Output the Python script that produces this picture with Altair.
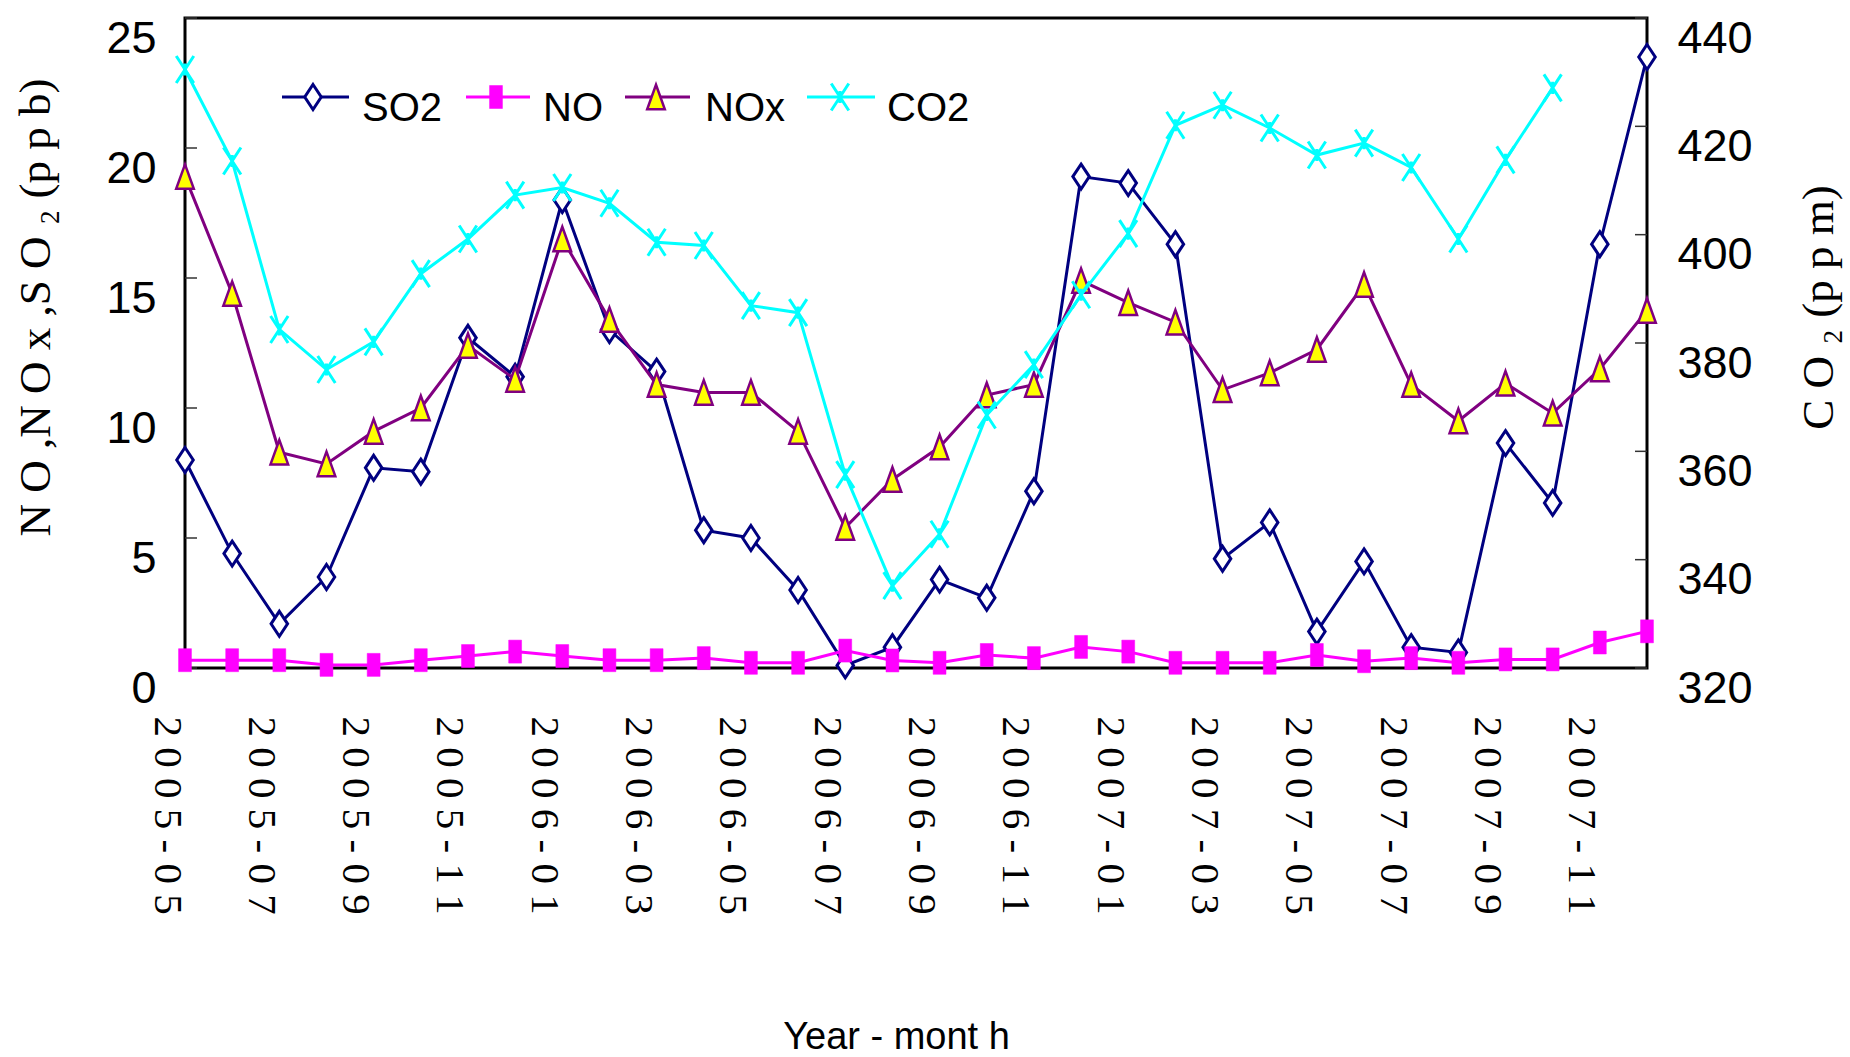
import altair as alt
import pandas as pd

months = ["2005-05", "2005-06", "2005-07", "2005-08", "2005-09", "2005-10", "2005-11", "2005-12",
          "2006-01", "2006-02", "2006-03", "2006-04", "2006-05", "2006-06", "2006-07", "2006-08",
          "2006-09", "2006-10", "2006-11", "2006-12", "2007-01", "2007-02", "2007-03", "2007-04",
          "2007-05", "2007-06", "2007-07", "2007-08", "2007-09", "2007-10", "2007-11", "2007-12"]

so2 = [8.0, 4.4, 1.7, 3.5, 7.7, 7.55, 12.7, 11.2, 18.0, 13.0, 11.4, 5.3, 5.0, 3.0, 0.1, 0.8,
       3.4, 2.7, 6.8, 18.9, 18.65, 16.3, 4.2, 5.6, 1.4, 4.1, 0.8, 0.6, 8.65, 6.35, 16.3, 23.5]
no = [0.3, 0.3, 0.3, 0.12, 0.12, 0.3, 0.46, 0.63, 0.46, 0.3, 0.3, 0.38, 0.2, 0.2, 0.67, 0.29,
      0.2, 0.5, 0.38, 0.81, 0.63, 0.2, 0.2, 0.2, 0.5, 0.26, 0.38, 0.2, 0.33, 0.33, 0.98, 1.41]
nox = [18.9, 14.4, 8.3, 7.85, 9.1, 10.0, 12.4, 11.1, 16.5, 13.4, 10.9, 10.6, 10.6, 9.1, 5.4, 7.25,
       8.5, 10.5, 10.9, 14.9, 14.05, 13.3, 10.7, 11.35, 12.25, 14.75, 10.9, 9.5, 10.95, 9.8, 11.5, 13.75]
co2 = [430.5, 413.6, 382.5, 375.1, 380.2, 392.8, 399.2, 407.3, 408.7, 405.8, 398.6, 398.0, 386.9, 385.6,
       355.7, 335.2, 344.7, 366.7, 376.0, 388.9, 400.2, 420.2, 423.9, 419.7, 414.7, 416.9, 412.4, 399.2,
       413.8, 427.1, None, None]

left_ticks = [0, 5, 10, 15, 20, 25]
right_ticks = [320, 340, 360, 380, 400, 420, 440]

spaced = [" ".join(m) for m in months]
label_values = spaced[::2]

df = pd.DataFrame({"m": spaced, "so2": so2, "no": no, "nox": nox, "co2": co2})

W, H = 1462, 650
SANS = "Liberation Sans, Arial, sans-serif"
SERIF = "Liberation Serif, Times New Roman, serif"

NAVY = "#000080"
MAG = "#FF00FF"
PURP = "#800080"
YEL = "#FFFF00"
CYAN = "#00FFFF"

DIAMOND = "M0,-1L0.66,0L0,1L-0.66,0Z"
SQUARE = "M-0.56,-1L0.56,-1L0.56,1L-0.56,1Z"
TRI = "M0,-1L0.72,1L-0.72,1Z"
STAR = "M-0.65,-1L0.65,1M-0.65,1L0.65,-1M0,-0.45L0,0.45"

LW = 3

xenc = alt.X("m:O", sort=spaced,
             scale=alt.Scale(type="point", padding=0, domain=spaced),
             axis=alt.Axis(values=label_values, labelAngle=90, labelAlign="left", labelBaseline="middle",
                           labelFont=SERIF, labelFontSize=41, labelColor="black", labelPadding=48,
                           labelOffset=-19, labelLimit=600, ticks=False, domain=False, grid=False,
                           labelOverlap=False,
                           title="Year - mont h", titleFont=SANS, titleFontSize=38, titleFontWeight="normal",
                           titleColor="black", titleX=711, titleY=380, titleBaseline="alphabetic",
                           titleAnchor="start", titleAlign="center"))

lscale = alt.Scale(domain=[0, 25], nice=False, zero=False)
rscale = alt.Scale(domain=[320, 440], nice=False, zero=False)

yleft_axis = alt.Axis(values=left_ticks, orient="left", ticks=False, domain=False, grid=False,
                      labelFont=SANS, labelFontSize=45, labelColor="black", labelPadding=29,
                      labelBaseline="middle", labelOffset=20, labelLimit=300,
                      title="N O ,N O x ,S O ₂ (p p b)", titleFont=SERIF, titleFontSize=45,
                      titleFontWeight="normal", titleColor="black", titleAngle=270,
                      titleX=-150, titleY=289, titleBaseline="middle", titleAlign="center",
                      titleLimit=900)
yright_axis = alt.Axis(values=right_ticks, orient="right", ticks=False, domain=False, grid=False,
                       labelFont=SANS, labelFontSize=45, labelColor="black", labelPadding=30,
                       labelBaseline="middle", labelOffset=20, labelLimit=300,
                       title="C O ₂ (p p m)", titleFont=SERIF, titleFontSize=45,
                       titleFontWeight="normal", titleColor="black", titleAngle=270,
                       titleX=171, titleY=289, titleBaseline="middle", titleAlign="center",
                       titleLimit=900)

base = alt.Chart(df)

def line(field, color, scale, axis):
    return base.mark_line(color=color, strokeWidth=LW).encode(
        x=xenc, y=alt.Y(f"{field}:Q", scale=scale, axis=axis))

def pts(field, scale, axis, shape, size, fill, stroke, sw, filled=True):
    kw = dict(shape=shape, size=size, stroke=stroke, strokeWidth=sw, opacity=1, filled=filled)
    if fill is not None:
        kw["fill"] = fill
    return base.mark_point(**kw).encode(
        x=xenc, y=alt.Y(f"{field}:Q", scale=scale, axis=axis))

lt = pd.DataFrame({"v": left_ticks})
rt = pd.DataFrame({"v": right_ticks})
lticks = alt.Chart(lt).mark_rule(color="#333333", strokeWidth=1.5).encode(
    y=alt.Y("v:Q", scale=lscale, axis=yleft_axis), x=alt.value(0), x2=alt.value(12))
rticks = alt.Chart(rt).mark_rule(color="#333333", strokeWidth=1.5).encode(
    y=alt.Y("v:Q", scale=rscale, axis=yright_axis), x=alt.value(W - 12), x2=alt.value(W))

LA, RA = yleft_axis, yright_axis
left = alt.layer(
    line("so2", NAVY, lscale, LA),
    lticks,
    pts("so2", lscale, LA, DIAMOND, 625, "white", NAVY, 3),
    line("nox", PURP, lscale, LA),
    pts("nox", lscale, LA, TRI, 600, YEL, PURP, 2.5),
    line("no", MAG, lscale, LA),
    pts("no", lscale, LA, SQUARE, 529, MAG, MAG, 0.5),
)
right = alt.layer(
    line("co2", CYAN, rscale, RA),
    rticks,
    pts("co2", rscale, RA, STAR, 729, None, CYAN, 3, filled=False),
)

# legend
one = pd.DataFrame({"k": [0]})
series_names = ["SO2", "NO", "NOx", "CO2"]
leg_specs = [
    (series_names[0], NAVY, DIAMOND, 625, "white", NAVY, 3, True, 97, 164, 128, 177),
    (series_names[1], MAG, SQUARE, 529, MAG, MAG, 0.5, True, 281, 345, 311, 358),
    (series_names[2], PURP, TRI, 600, YEL, PURP, 2.5, True, 440, 505, 471, 520),
    (series_names[3], CYAN, STAR, 729, None, CYAN, 3, False, 622, 690, 655, 702),
]
legend_layers = []
LY = 79
for name, col, shp, sz, fill, stroke, sw, filled, x1, x2, xm, xt in leg_specs:
    legend_layers.append(alt.Chart(one).mark_rule(color=col, strokeWidth=LW).encode(
        x=alt.value(x1), x2=alt.value(x2), y=alt.value(LY)))
    kw = dict(shape=shp, size=sz, stroke=stroke, strokeWidth=sw, opacity=1, filled=filled)
    if fill is not None:
        kw["fill"] = fill
    legend_layers.append(alt.Chart(one).mark_point(**kw).encode(x=alt.value(xm), y=alt.value(LY)))
    legend_layers.append(alt.Chart(one).mark_text(text=name, align="left", baseline="middle",
                                                  font=SANS, fontSize=40, color="black").encode(
        x=alt.value(xt), y=alt.value(LY + 12)))

legend = alt.layer(*legend_layers)

chart = alt.layer(left, right, legend).resolve_scale(y="independent").properties(
    width=W, height=H,
    padding={"left": 185, "top": 18, "right": 1850 - 185 - W, "bottom": 1057 - 18 - H},
    autosize=alt.AutoSizeParams(type="none"),
    background="white",
).configure_view(stroke="black", strokeWidth=3)

chart.save("out.html", embed_options={"renderer": "svg", "actions": False})
